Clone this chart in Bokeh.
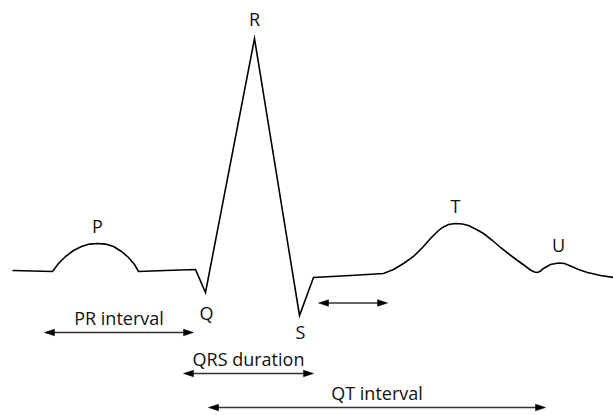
from bokeh.plotting import figure
from bokeh.models import Range1d
from bokeh.core.properties import value
from bokeh.embed import file_html
from bokeh.resources import INLINE

# ECG trace (image pixel units; y grows downward)
trace_x = [12, 52, 58, 65, 73, 81, 89, 97, 105, 113, 121, 128, 134, 138,
           165, 195, 205, 254, 299, 313, 350, 383,
           393, 403, 413, 422, 430, 437, 442, 448, 455, 462, 468, 476, 483,
           492, 500, 509, 517, 524, 530, 534, 537, 540, 543, 550, 558, 564,
           570, 578, 587, 600, 613]
trace_y = [270, 271, 263, 256, 250, 246, 243.6, 243, 243.6, 246, 251, 257, 264, 271,
           270, 269, 292, 38, 315, 277, 275, 273,
           269, 263, 256, 247, 238, 231, 227, 224, 223, 223.5, 225, 229, 233,
           240, 247, 254, 260, 265, 269.5, 271.5, 272, 270.5, 268, 264, 262.5, 263,
           265.5, 269, 272, 275, 277]

# wave labels
wave_names = ["P", "Q", "R", "S", "T", "U"]
wave_x = [97, 206, 254, 300, 455, 558]
wave_y = [225, 312, 18, 331, 205, 244]

# interval arrows
interval_names = ["PR interval", "", "QRS duration", "QT interval"]
interval_start = [44, 318, 183, 208]
interval_end = [193, 387, 313, 545]
interval_y = [332, 302.5, 373, 407]
interval_label_y = [317, 302.5, 358, 392]

W, H = 613, 415
p = figure(width=W, height=H, output_backend="svg", toolbar_location=None,
           x_range=Range1d(0, W), y_range=Range1d(H, 0),
           min_border=0, outline_line_color=None)
p.axis.visible = False
p.grid.visible = False
p.background_fill_color = "white"

p.line(trace_x, trace_y, line_color="black", line_width=1.6, line_join="miter")

FONT = value("Open Sans")
p.text(wave_x, wave_y, text=wave_names, text_font=FONT, text_font_size="18px",
       text_align="center", text_baseline="middle", text_color="#111111")

# arrows: shafts and heads derived from the interval endpoints
head_len, head_half = 10, 3.3
xs_heads, ys_heads = [], []
for s, e, y in zip(interval_start, interval_end, interval_y):
    p.line([s + 3, e - 3], [y, y], line_color="#333333", line_width=1.3)
    xs_heads.append([s, s + head_len, s + head_len])
    ys_heads.append([y, y - head_half, y + head_half])
    xs_heads.append([e, e - head_len, e - head_len])
    ys_heads.append([y, y - head_half, y + head_half])
p.patches(xs_heads, ys_heads, fill_color="black", line_color="black", line_width=0.5)

lab_x = [(s + e) / 2 for s, e in zip(interval_start, interval_end)]
keep = [i for i, n in enumerate(interval_names) if n]
p.text([lab_x[i] for i in keep], [interval_label_y[i] for i in keep],
       text=[interval_names[i] for i in keep], text_font=FONT,
       text_font_size="18px", text_align="center", text_baseline="middle",
       text_color="#111111")

open("out.html", "w").write(file_html(p, INLINE))
